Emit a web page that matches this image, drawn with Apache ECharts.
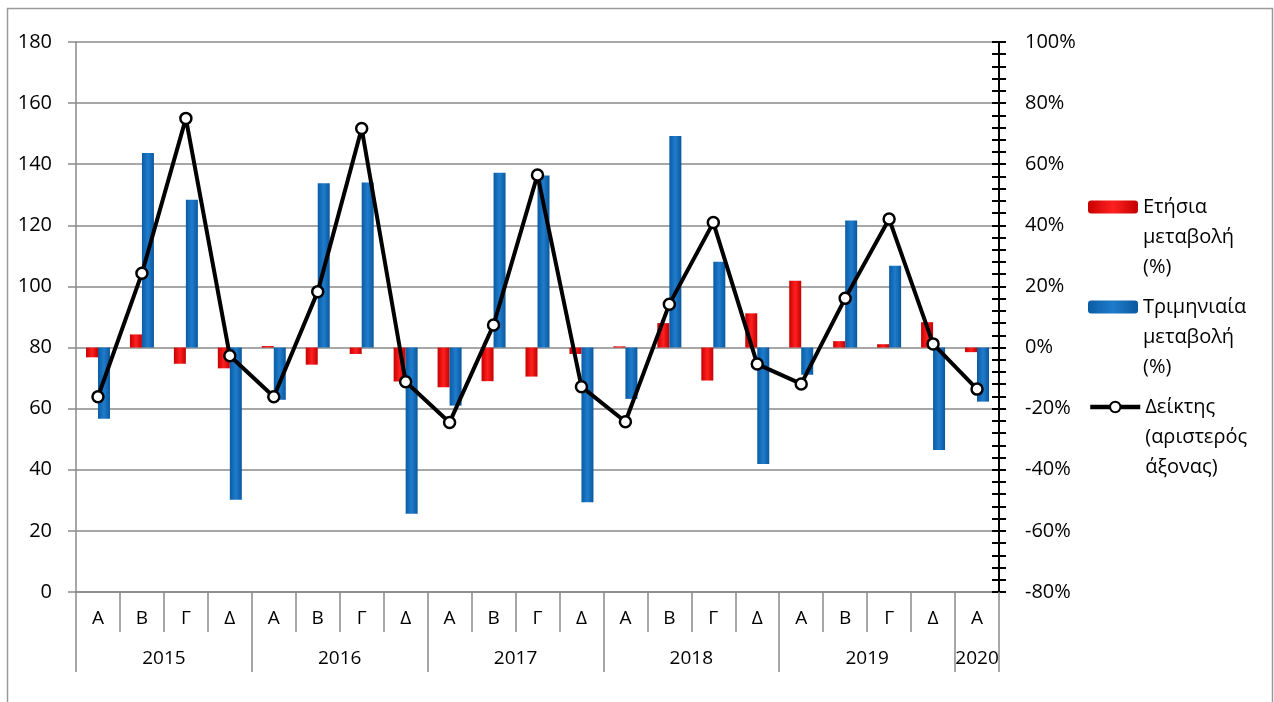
<!DOCTYPE html>
<html><head><meta charset="utf-8">
<script src="https://cdn.jsdelivr.net/npm/echarts@6/dist/echarts.min.js"></script>
<style>html,body{margin:0;padding:0;background:#fff}#c{width:1274px;height:702px}</style>
</head><body><div id="c"></div>
<script>
const quarters = ['Α','Β','Γ','Δ','Α','Β','Γ','Δ','Α','Β','Γ','Δ','Α','Β','Γ','Δ','Α','Β','Γ','Δ','Α'];
const years = ['2015','2016','2017','2018','2019','2020'];
const quartersPerYear = [4,4,4,4,4,1];
const indexValues = [63.9,104.3,155.0,77.3,63.9,98.3,151.7,68.8,55.5,87.4,136.5,67.2,55.7,94.2,120.9,74.6,68.1,96.1,122.1,81.2,66.4];
const annualChange = [-3.2,4.3,-5.3,-6.8,0.5,-5.6,-2.1,-11.1,-13.0,-11.0,-9.5,-2.1,0.4,8.0,-10.8,11.2,21.9,2.1,1.1,8.3,-1.5];
const quarterlyChange = [-23.3,63.7,48.4,-49.8,-17.1,53.8,54.0,-54.4,-19.0,57.2,56.3,-50.6,-16.8,69.2,28.1,-38.1,-8.9,41.6,26.8,-33.5,-17.7];
const seriesNames = ['Ετήσια\nμεταβολή\n(%)','Τριμηνιαία\nμεταβολή\n(%)','Δείκτης\n(αριστερός\nάξονας)'];

const FONT = 'Open Sans';
const GREY = '#8a8a8a';

// year row built on half-quarter slots
const slotData = [];
for (let i = 0; i < quarters.length * 2 + 1; i++) slotData.push('s' + i);
const yearLabelAt = {};
const yearBoundary = new Set([0]);
let pos = 0;
years.forEach((y, i) => { const n = quartersPerYear[i]; yearLabelAt[2 * pos + n] = y; pos += n; yearBoundary.add(2 * pos); });

const chart = echarts.init(document.getElementById('c'));
const lh = 30;
function legendFor(name, centerY) {
  return {
    data: [name], left: 1088, top: centerY - 2.5 * lh, padding: 0,
    orient: 'vertical', itemWidth: 50, itemHeight: 13,
    formatter: (n) => '\n\n' + n,
    lineStyle: { width: 4.5 },
    textStyle: { fontFamily: FONT, fontSize: 20, color: '#000', lineHeight: lh }
  };
}
chart.setOption({
  backgroundColor: '#fff',
  animation: false,
  textStyle: { fontFamily: FONT },
  graphic: [{ type: 'rect', shape: { x: 7.5, y: 8.5, width: 1265, height: 720 }, style: { fill: 'none', stroke: '#9a9a9a', lineWidth: 1.5 }, silent: true }],
  legend: [legendFor(seriesNames[0], 207), legendFor(seriesNames[1], 307), legendFor(seriesNames[2], 407)],
  grid: { left: 76, right: 275, top: 42, bottom: 110, containLabel: false },
  xAxis: [{
    type: 'category', data: quarters, position: 'bottom',
    axisLine: { onZero: false, lineStyle: { color: GREY, width: 1.5 } },
    axisTick: { show: true, interval: 0, length: 40, lineStyle: { color: GREY, width: 1.5 } },
    axisLabel: { interval: 0, margin: 17, fontSize: 19, color: '#000', fontFamily: FONT }
  }, {
    type: 'category', data: slotData, position: 'bottom', boundaryGap: false,
    axisLine: { show: false, onZero: false },
    axisTick: { show: true, length: 80, interval: (i) => yearBoundary.has(i), lineStyle: { color: GREY, width: 1.5 } },
    axisLabel: { margin: 57, fontSize: 19, color: '#000', fontFamily: FONT,
      interval: (i) => yearLabelAt[i] !== undefined,
      formatter: (v, i) => yearLabelAt[i] || '' }
  }],
  yAxis: [{
    type: 'value', position: 'left', min: 0, max: 180, interval: 20,
    axisLine: { show: true, onZero: false, lineStyle: { color: GREY, width: 1.5 } },
    axisTick: { show: true, length: 8, lineStyle: { color: GREY, width: 1.5 } },
    axisLabel: { margin: 24, fontSize: 20, color: '#000', fontFamily: FONT },
    splitLine: { show: true, lineStyle: { color: GREY, width: 1.5 } }
  }, {
    type: 'value', position: 'right', min: -80, max: 100, interval: 20,
    axisLine: { show: true, onZero: false, lineStyle: { color: '#000', width: 2 } },
    axisTick: { show: true, length: 7, lineStyle: { color: '#000', width: 2 } },
    minorTick: { show: true, splitNumber: 5, length: 7, lineStyle: { color: '#000', width: 2 } },
    axisLabel: { margin: 26, fontSize: 20, color: '#000', fontFamily: FONT, formatter: '{value}%' },
    splitLine: { show: false }
  }, {
    type: 'value', position: 'right', min: -80, max: 100, interval: 20,
    axisLine: { show: false, onZero: false },
    axisTick: { show: true, inside: true, length: 7, lineStyle: { color: '#000', width: 2 } },
    minorTick: { show: true, splitNumber: 5, length: 7, lineStyle: { color: '#000', width: 2 } },
    axisLabel: { show: false },
    splitLine: { show: false }
  }],
  series: [{
    name: seriesNames[0], type: 'bar', yAxisIndex: 1, data: annualChange,
    barWidth: 12, barGap: '0%',
    itemStyle: { color: { type: 'linear', x: 0, y: 0, x2: 1, y2: 0, colorStops: [
      { offset: 0, color: '#c80000' }, { offset: 0.5, color: '#ff2020' }, { offset: 1, color: '#c40000' }] } }
  }, {
    name: seriesNames[1], type: 'bar', yAxisIndex: 1, data: quarterlyChange,
    barWidth: 12, barGap: '0%',
    itemStyle: { color: { type: 'linear', x: 0, y: 0, x2: 1, y2: 0, colorStops: [
      { offset: 0, color: '#0a5ca4' }, { offset: 0.5, color: '#1f7ccc' }, { offset: 1, color: '#0a589e' }] } }
  }, {
    name: seriesNames[2], type: 'line', yAxisIndex: 0, data: indexValues, z: 5,
    symbol: 'circle', symbolSize: 11,
    lineStyle: { color: '#000', width: 4 },
    itemStyle: { color: '#fff', borderColor: '#000', borderWidth: 2.5 }
  }]
});
</script></body></html>
